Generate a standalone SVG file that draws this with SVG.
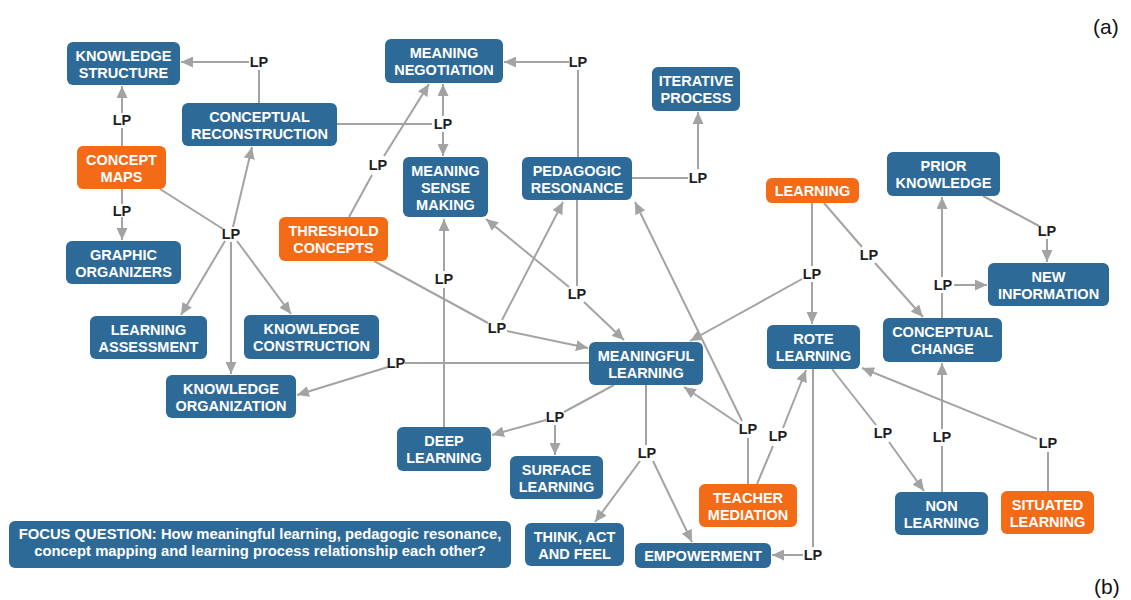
<svg xmlns="http://www.w3.org/2000/svg" width="1131" height="600" viewBox="0 0 1131 600">
  <style>
    .n rect { rx: 6px; ry: 6px; }
    .b { fill: #2e6a97; }
    .o { fill: #f36a17; }
    .t { font-family: "Liberation Sans", Arial, sans-serif; font-weight: bold; font-size: 14.5px; fill: #ffffff; text-anchor: middle; }
    .lp { font-family: "Liberation Sans", Arial, sans-serif; font-weight: bold; font-size: 14.5px; fill: #1e1e1e; text-anchor: middle; }
    .c path { fill: none; stroke: #a3a3a3; stroke-width: 2; }
    .c path.a { marker-end: url(#arr); }
    .tag { font-family: "Liberation Sans", Arial, sans-serif; font-size: 21px; fill: #111111; }
  </style>
  <defs>
    <marker id="arr" markerUnits="userSpaceOnUse" markerWidth="13" markerHeight="11" refX="12" refY="5.5" orient="auto">
      <path d="M0,0 L12,5.5 L0,11 z" fill="#a3a3a3"/>
    </marker>
  </defs>
  <rect width="1131" height="600" fill="#ffffff"/>

  <!-- connectors -->
  <g id="connectors" class="c">
    <path d="M122,146 V128"/><path class="a" d="M122,113 V86"/>
    <path d="M259,103 V70"/><path class="a" d="M249,62 H181"/>
    <path d="M122,189 V204"/><path class="a" d="M122,217 V240"/>
    <path d="M160,189 L223,229"/>
    <path class="a" d="M233,227 L252,147"/>
    <path class="a" d="M225,241 L181,315"/>
    <path class="a" d="M237,241 L291,314"/>
    <path class="a" d="M231,242 V374"/>
    <path d="M337,124 H432"/>
    <path class="a" d="M443,116 V84"/><path class="a" d="M443,132 V156"/>
    <path d="M349,217 L372,175"/><path class="a" d="M384,156 L429,84"/>
    <path d="M578,157 V70"/><path class="a" d="M569,62 H504"/>
    <path d="M632,178 H688"/><path class="a" d="M698,169 V112"/>
    <path d="M374,261 L488,323"/>
    <path class="a" d="M502,320 L563,202"/>
    <path class="a" d="M507,331 L588,348"/>
    <path d="M577,200 V286"/>
    <path class="a" d="M569,287 L486,219"/>
    <path class="a" d="M584,302 L624,340"/>
    <path d="M444,427 V288"/><path class="a" d="M444,271 V219"/>
    <path d="M589,363 H405"/><path class="a" d="M388,367 L297,395"/>
    <path d="M614,385 L564,412"/>
    <path class="a" d="M546,420 L492,435"/>
    <path class="a" d="M555,425 V455"/>
    <path d="M646,385 V445"/>
    <path class="a" d="M640,461 L595,522"/>
    <path class="a" d="M653,461 L692,542"/>
    <path d="M748,484 V438"/>
    <path class="a" d="M739,424 L684,387"/>
    <path class="a" d="M742,421 L635,202"/>
    <path d="M757,484 L773,446"/><path class="a" d="M783,428 L806,370"/>
    <path d="M812,203 V266"/>
    <path class="a" d="M812,282 V324"/>
    <path class="a" d="M802,279 L690,341"/>
    <path d="M824,203 L862,247"/><path class="a" d="M875,263 L923,317"/>
    <path d="M942,318 V293"/>
    <path class="a" d="M942,277 V197"/>
    <path class="a" d="M954,285 H987"/>
    <path d="M983,196 L1039,226"/><path class="a" d="M1047,239 V262"/>
    <path d="M832,369 L876,425"/><path class="a" d="M889,442 L924,491"/>
    <path d="M942,492 V446"/><path class="a" d="M942,429 V363"/>
    <path d="M1048,491 V452"/><path class="a" d="M1037,439 L862,368"/>
    <path d="M813,369 V547"/><path class="a" d="M803,555 H772"/>
  </g>

  <!-- linking phrases -->
  <g id="links">
    <text class="lp" x="122" y="125">LP</text>
    <text class="lp" x="259" y="67">LP</text>
    <text class="lp" x="122" y="216">LP</text>
    <text class="lp" x="231" y="239">LP</text>
    <text class="lp" x="443" y="129">LP</text>
    <text class="lp" x="378" y="170">LP</text>
    <text class="lp" x="578" y="67">LP</text>
    <text class="lp" x="698" y="183">LP</text>
    <text class="lp" x="497" y="333">LP</text>
    <text class="lp" x="577" y="299">LP</text>
    <text class="lp" x="444" y="284">LP</text>
    <text class="lp" x="396" y="368">LP</text>
    <text class="lp" x="555" y="422">LP</text>
    <text class="lp" x="647" y="458">LP</text>
    <text class="lp" x="748" y="434">LP</text>
    <text class="lp" x="778" y="441">LP</text>
    <text class="lp" x="812" y="279">LP</text>
    <text class="lp" x="869" y="260">LP</text>
    <text class="lp" x="943" y="290">LP</text>
    <text class="lp" x="1047" y="236">LP</text>
    <text class="lp" x="883" y="438">LP</text>
    <text class="lp" x="942" y="442">LP</text>
    <text class="lp" x="1048" y="448">LP</text>
    <text class="lp" x="813" y="560">LP</text>
  </g>

  <!-- concepts -->
  <g id="knowledge-structure" class="n"><rect class="b" x="67" y="42" width="113" height="43"/><text class="t" x="123.5" y="60.5">KNOWLEDGE</text><text class="t" x="123.5" y="77.5">STRUCTURE</text></g>
  <g id="conceptual-reconstruction" class="n"><rect class="b" x="182" y="103" width="155" height="43"/><text class="t" x="259.5" y="121.5">CONCEPTUAL</text><text class="t" x="259.5" y="138.5">RECONSTRUCTION</text></g>
  <g id="concept-maps" class="n"><rect class="o" x="77" y="146" width="89" height="43"/><text class="t" x="121.5" y="164.5">CONCEPT</text><text class="t" x="121.5" y="181.5">MAPS</text></g>
  <g id="graphic-organizers" class="n"><rect class="b" x="66" y="241" width="115" height="43"/><text class="t" x="123.5" y="259.5">GRAPHIC</text><text class="t" x="123.5" y="276.5">ORGANIZERS</text></g>
  <g id="learning-assessment" class="n"><rect class="b" x="90" y="316" width="117" height="43"/><text class="t" x="148.5" y="334.5">LEARNING</text><text class="t" x="148.5" y="351.5">ASSESSMENT</text></g>
  <g id="knowledge-construction" class="n"><rect class="b" x="244" y="315" width="135" height="44"/><text class="t" x="311.5" y="334">KNOWLEDGE</text><text class="t" x="311.5" y="351">CONSTRUCTION</text></g>
  <g id="knowledge-organization" class="n"><rect class="b" x="166" y="375" width="130" height="43"/><text class="t" x="231" y="393.5">KNOWLEDGE</text><text class="t" x="231" y="410.5">ORGANIZATION</text></g>
  <g id="threshold-concepts" class="n"><rect class="o" x="279" y="217" width="109" height="44"/><text class="t" x="333.5" y="236">THRESHOLD</text><text class="t" x="333.5" y="253">CONCEPTS</text></g>
  <g id="meaning-negotiation" class="n"><rect class="b" x="385" y="39" width="118" height="44"/><text class="t" x="444" y="58">MEANING</text><text class="t" x="444" y="75">NEGOTIATION</text></g>
  <g id="meaning-sense-making" class="n"><rect class="b" x="403" y="157" width="85" height="60"/><text class="t" x="445.5" y="176">MEANING</text><text class="t" x="445.5" y="193">SENSE</text><text class="t" x="445.5" y="210">MAKING</text></g>
  <g id="pedagogic-resonance" class="n"><rect class="b" x="522" y="157" width="110" height="43"/><text class="t" x="577" y="175.5">PEDAGOGIC</text><text class="t" x="577" y="192.5">RESONANCE</text></g>
  <g id="iterative-process" class="n"><rect class="b" x="652" y="67" width="88" height="44"/><text class="t" x="696" y="86">ITERATIVE</text><text class="t" x="696" y="103">PROCESS</text></g>
  <g id="learning" class="n"><rect class="o" x="766" y="178" width="93" height="25"/><text class="t" x="812.5" y="196">LEARNING</text></g>
  <g id="prior-knowledge" class="n"><rect class="b" x="887" y="152" width="113" height="44"/><text class="t" x="943.5" y="171">PRIOR</text><text class="t" x="943.5" y="188">KNOWLEDGE</text></g>
  <g id="new-information" class="n"><rect class="b" x="988" y="263" width="121" height="43"/><text class="t" x="1048.5" y="281.5">NEW</text><text class="t" x="1048.5" y="298.5">INFORMATION</text></g>
  <g id="rote-learning" class="n"><rect class="b" x="767" y="325" width="93" height="44"/><text class="t" x="813.5" y="344">ROTE</text><text class="t" x="813.5" y="361">LEARNING</text></g>
  <g id="conceptual-change" class="n"><rect class="b" x="883" y="318" width="119" height="44"/><text class="t" x="942.5" y="337">CONCEPTUAL</text><text class="t" x="942.5" y="354">CHANGE</text></g>
  <g id="meaningful-learning" class="n"><rect class="b" x="589" y="342" width="114" height="43"/><text class="t" x="646" y="360.5">MEANINGFUL</text><text class="t" x="646" y="377.5">LEARNING</text></g>
  <g id="deep-learning" class="n"><rect class="b" x="397" y="427" width="94" height="44"/><text class="t" x="444" y="446">DEEP</text><text class="t" x="444" y="463">LEARNING</text></g>
  <g id="surface-learning" class="n"><rect class="b" x="510" y="456" width="93" height="43"/><text class="t" x="556.5" y="474.5">SURFACE</text><text class="t" x="556.5" y="491.5">LEARNING</text></g>
  <g id="think-act-feel" class="n"><rect class="b" x="525" y="523" width="99" height="43"/><text class="t" x="574.5" y="541.5">THINK, ACT</text><text class="t" x="574.5" y="558.5">AND FEEL</text></g>
  <g id="empowerment" class="n"><rect class="b" x="635" y="543" width="136" height="25"/><text class="t" x="703" y="561">EMPOWERMENT</text></g>
  <g id="teacher-mediation" class="n"><rect class="o" x="699" y="484" width="98" height="43"/><text class="t" x="748" y="502.5">TEACHER</text><text class="t" x="748" y="519.5">MEDIATION</text></g>
  <g id="non-learning" class="n"><rect class="b" x="895" y="492" width="93" height="43"/><text class="t" x="941.5" y="510.5">NON</text><text class="t" x="941.5" y="527.5">LEARNING</text></g>
  <g id="situated-learning" class="n"><rect class="o" x="1001" y="491" width="93" height="43"/><text class="t" x="1047.5" y="509.5">SITUATED</text><text class="t" x="1047.5" y="526.5">LEARNING</text></g>
  <g id="focus-question" class="n"><rect class="b" x="9" y="521" width="502" height="47"/><text class="t" x="260" y="538.5" style="font-size:14.8px">FOCUS QUESTION: How meaningful learning, pedagogic resonance,</text><text class="t" x="260" y="556" style="font-size:14.8px">concept mapping and learning process relationship each other?</text></g>

  <!-- panel tags -->
  <text class="tag" x="1093" y="34">(a)</text>
  <text class="tag" x="1094" y="594">(b)</text>
</svg>
